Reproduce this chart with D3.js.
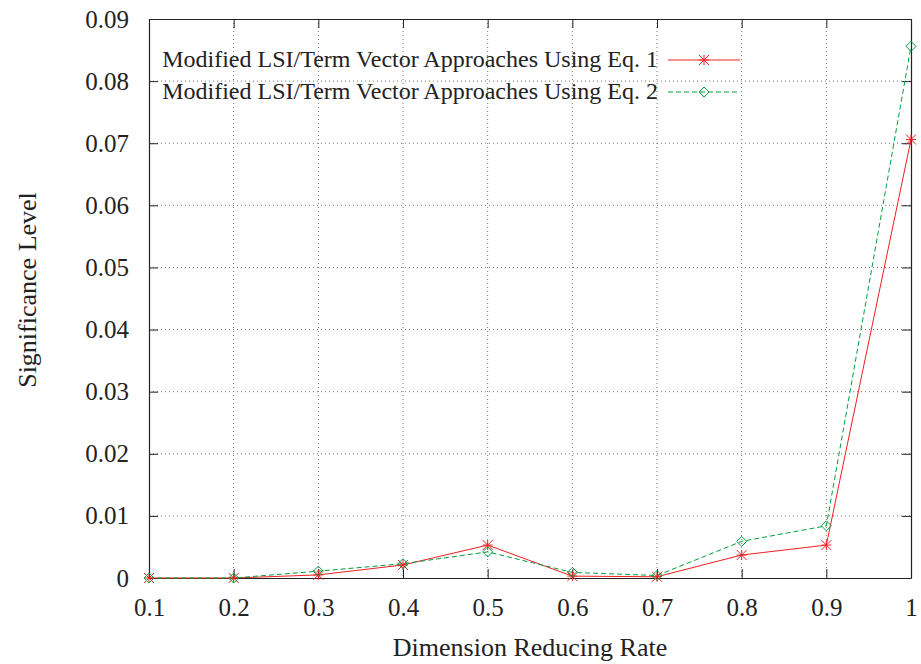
<!DOCTYPE html>
<html>
<head>
<meta charset="utf-8">
<script src="https://cdn.jsdelivr.net/npm/d3@7"></script>
<style>
  body { margin: 0; background: #fff; }
  text { font-family: "Liberation Serif", "Times New Roman", serif; }
</style>
</head>
<body>
<div id="chart"></div>
<script>
var rates = [0.1, 0.2, 0.3, 0.4, 0.5, 0.6, 0.7, 0.8, 0.9, 1.0];
var eq1 = [0, 0, 0.0005, 0.0021, 0.0053, 0.0003, 0.0002, 0.0037, 0.0053, 0.0706];
var eq2 = [0, 0, 0.0011, 0.0023, 0.0042, 0.0009, 0.0004, 0.0059, 0.0084, 0.0856];
var xTicks = [0.1, 0.2, 0.3, 0.4, 0.5, 0.6, 0.7, 0.8, 0.9, 1];
var yTicks = [0, 0.01, 0.02, 0.03, 0.04, 0.05, 0.06, 0.07, 0.08, 0.09];
var seriesNames = ["Modified LSI/Term Vector Approaches Using Eq. 1",
                   "Modified LSI/Term Vector Approaches Using Eq. 2"];

var margin = {top: 19, right: 10, bottom: 86, left: 149},
    width = 921 - margin.left - margin.right,
    height = 664 - margin.top - margin.bottom;

var svg = d3.select("#chart")
  .append("svg")
    .attr("width", 921)
    .attr("height", 664)
  .append("g")
    .attr("transform", "translate(" + margin.left + "," + margin.top + ")");

var x = d3.scaleLinear().domain([0.1, 1]).range([0, width]);
var y = d3.scaleLinear().domain([0, 0.09]).range([height, 0]);

// grid
svg.append("g").selectAll("line")
  .data(xTicks.slice(1, -1))
  .enter().append("line")
    .attr("x1", d => x(d)).attr("x2", d => x(d))
    .attr("y1", 0).attr("y2", height)
    .attr("stroke", "#777").attr("stroke-width", 1)
    .attr("stroke-dasharray", "1,3");
svg.append("g").selectAll("line")
  .data(yTicks.slice(1, -1))
  .enter().append("line")
    .attr("x1", 0).attr("x2", width)
    .attr("y1", d => y(d)).attr("y2", d => y(d))
    .attr("stroke", "#777").attr("stroke-width", 1)
    .attr("stroke-dasharray", "1,3");

// axes with inward ticks
var fmtY = d => d === 0 ? "0" : d3.format(".2f")(d);
var fmtX = d => d === 1 ? "1" : d3.format(".1f")(d);

svg.append("g")
  .attr("transform", "translate(0," + height + ")")
  .call(d3.axisBottom(x).tickValues(xTicks).tickFormat(fmtX).tickSizeInner(-9).tickSizeOuter(0).tickPadding(20));
svg.append("g")
  .call(d3.axisTop(x).tickValues(xTicks).tickFormat("").tickSizeInner(-9).tickSizeOuter(0));
svg.append("g")
  .call(d3.axisLeft(y).tickValues(yTicks).tickFormat(fmtY).tickSizeInner(-9).tickSizeOuter(0).tickPadding(20));
svg.append("g")
  .attr("transform", "translate(" + width + ",0)")
  .call(d3.axisRight(y).tickValues(yTicks).tickFormat("").tickSizeInner(-9).tickSizeOuter(0));

svg.selectAll(".tick text")
  .attr("font-family", "Liberation Serif")
  .attr("font-size", 25)
  .attr("fill", "#222");
svg.selectAll(".tick line").attr("stroke", "#222");
svg.selectAll(".domain").attr("stroke", "#222").attr("stroke-width", 1.2);

// axis labels
svg.append("text")
  .attr("x", 530 - margin.left)
  .attr("y", height + 78)
  .style("text-anchor", "middle")
  .attr("font-size", 26)
  .attr("fill", "#222")
  .text("Dimension Reducing Rate");

svg.append("text")
  .attr("transform", "rotate(-90)")
  .attr("x", -271)
  .attr("y", -113)
  .style("text-anchor", "middle")
  .attr("font-size", 26)
  .attr("fill", "#222")
  .text("Significance Level");

var red = "#f02020", green = "#00a040";

var line = d3.line().x((d, i) => x(rates[i])).y(d => y(d));

svg.append("path").datum(eq1)
  .attr("d", line).attr("fill", "none")
  .attr("stroke", red).attr("stroke-width", 1);
svg.append("path").datum(eq2)
  .attr("d", line).attr("fill", "none")
  .attr("stroke", green).attr("stroke-width", 1)
  .attr("stroke-dasharray", "5,3");

function star(g, cx, cy) {
  var s = 5;
  g.append("path")
    .attr("d", "M" + (cx - s) + "," + cy + "H" + (cx + s) +
               "M" + cx + "," + (cy - s) + "V" + (cy + s) +
               "M" + (cx - s) + "," + (cy - s) + "L" + (cx + s) + "," + (cy + s) +
               "M" + (cx - s) + "," + (cy + s) + "L" + (cx + s) + "," + (cy - s))
    .attr("stroke", red).attr("stroke-width", 1).attr("fill", "none");
}
function diamond(g, cx, cy) {
  var s = 5;
  g.append("path")
    .attr("d", "M" + cx + "," + (cy - s) + "L" + (cx + s) + "," + cy +
               "L" + cx + "," + (cy + s) + "L" + (cx - s) + "," + cy + "Z")
    .attr("stroke", green).attr("stroke-width", 1).attr("fill", "none");
}

var marks = svg.append("g");
eq1.forEach((v, i) => star(marks, x(rates[i]), y(v)));
eq2.forEach((v, i) => diamond(marks, x(rates[i]), y(v)));

// legend
var legend = svg.append("g");
var rows = [{name: seriesNames[0], color: red, dash: null, mark: star, yy: 41},
            {name: seriesNames[1], color: green, dash: "5,3", mark: diamond, yy: 73}];
rows.forEach(function (r) {
  legend.append("text")
    .attr("x", 509).attr("y", r.yy + 7)
    .style("text-anchor", "end")
    .attr("font-size", 24).attr("fill", "#222")
    .text(r.name);
  legend.append("line")
    .attr("x1", 519).attr("x2", 591)
    .attr("y1", r.yy).attr("y2", r.yy)
    .attr("stroke", r.color).attr("stroke-width", 1)
    .attr("stroke-dasharray", r.dash);
  r.mark(legend, 555, r.yy);
});
</script>
</body>
</html>
